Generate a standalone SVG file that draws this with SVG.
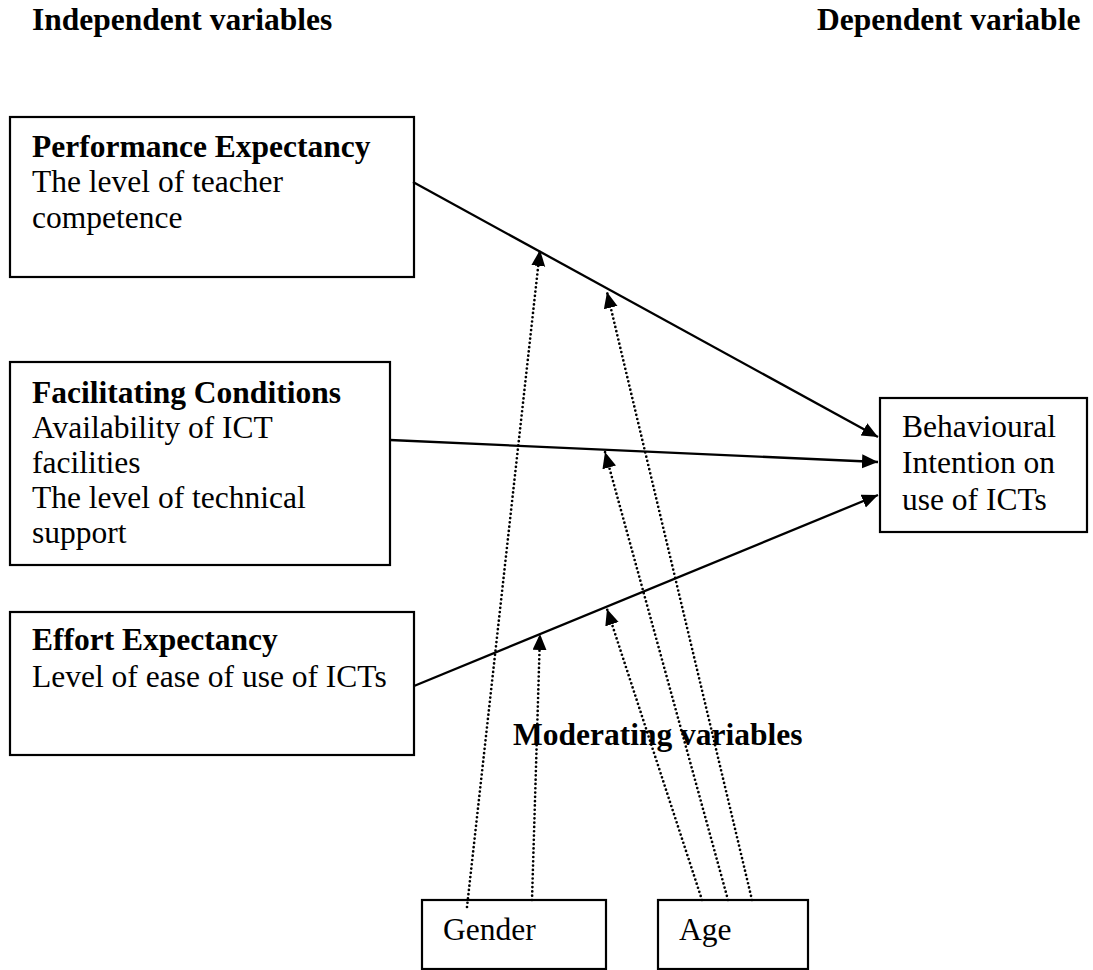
<svg xmlns="http://www.w3.org/2000/svg" width="1093" height="970" viewBox="0 0 1093 970">
<style>
text{font-family:"Liberation Serif","Times New Roman",serif;font-size:31.5px;fill:#000}
.b{font-weight:bold}
.box{fill:#fff;stroke:#000;stroke-width:2.2}
.solid{stroke:#000;stroke-width:2.3;fill:none}
.dot{stroke:#000;stroke-width:2.7;fill:none;stroke-dasharray:0 4.3;stroke-linecap:round}
</style>
<defs>
<marker id="ah" markerUnits="userSpaceOnUse" markerWidth="18" markerHeight="16" refX="16" refY="7" orient="auto"><path d="M0,0 L16,7 L0,14 z" fill="#000"/></marker>
</defs>
<rect width="1093" height="970" fill="#fff"/>
<g id="headers">
<text class="b" x="32" y="30">Independent variables</text>
<text class="b" x="817" y="30">Dependent variable</text>
<text class="b" x="513" y="745">Moderating variables</text>
</g>
<g id="performance">
<rect class="box" x="10" y="117" width="404" height="160"/>
<text class="b" x="32" y="157">Performance Expectancy</text>
<text x="32" y="192">The level of teacher</text>
<text x="32" y="228">competence</text>
</g>
<g id="facilitating">
<rect class="box" x="10" y="362" width="380" height="203"/>
<text class="b" x="32" y="403">Facilitating Conditions</text>
<text x="32" y="438">Availability of ICT</text>
<text x="32" y="473">facilities</text>
<text x="32" y="508">The level of technical</text>
<text x="32" y="543">support</text>
</g>
<g id="effort">
<rect class="box" x="10" y="612" width="404" height="143"/>
<text class="b" x="32" y="650">Effort Expectancy</text>
<text x="32" y="687">Level of ease of use of ICTs</text>
</g>
<g id="behavioural">
<rect class="box" x="880" y="398" width="207" height="134"/>
<text x="902" y="437">Behavioural</text>
<text x="902" y="473">Intention on</text>
<text x="902" y="510">use of ICTs</text>
</g>
<g id="gender">
<rect class="box" x="422" y="900" width="184" height="69"/>
<text x="443" y="940">Gender</text>
</g>
<g id="age">
<rect class="box" x="658" y="900" width="150" height="69"/>
<text x="679" y="940">Age</text>
</g>
<g id="connectors">
<line class="solid" x1="413" y1="182" x2="878" y2="437" marker-end="url(#ah)"/>
<line class="solid" x1="390" y1="440" x2="878" y2="462" marker-end="url(#ah)"/>
<line class="solid" x1="414" y1="686" x2="878" y2="495" marker-end="url(#ah)"/>
<line class="dot" x1="467" y1="907" x2="540" y2="250" marker-end="url(#ah)"/>
<line class="dot" x1="532" y1="900" x2="540" y2="634" marker-end="url(#ah)"/>
<line class="dot" x1="702" y1="900" x2="607" y2="609" marker-end="url(#ah)"/>
<line class="dot" x1="728" y1="900" x2="605" y2="452" marker-end="url(#ah)"/>
<line class="dot" x1="752" y1="900" x2="607" y2="292" marker-end="url(#ah)"/>
</g>
</svg>
